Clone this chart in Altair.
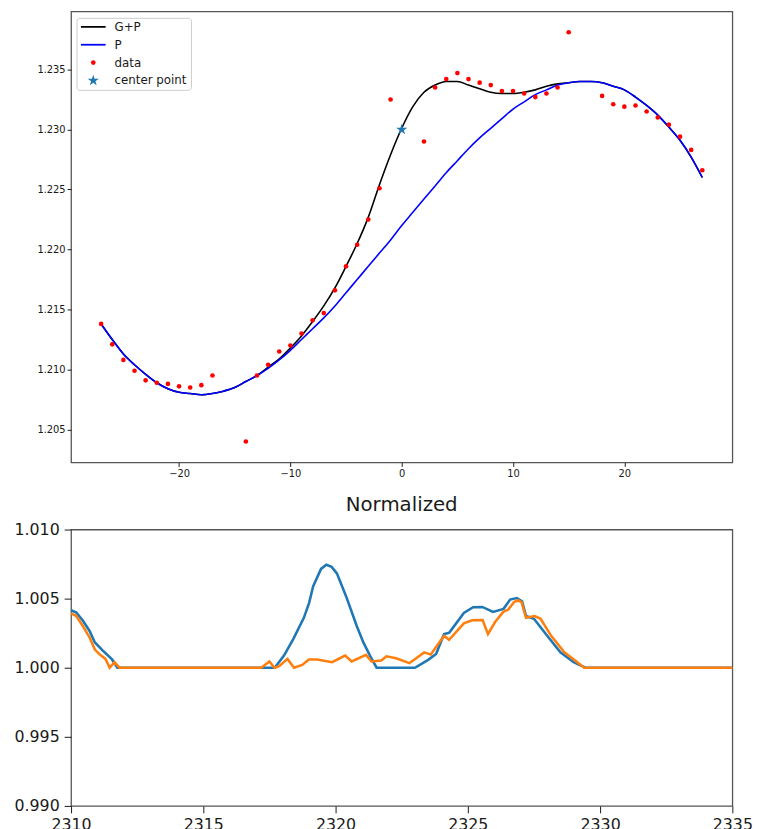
import altair as alt
import pandas as pd

# ---------------- top panel data ----------------
gp_x = list(range(-27, 28))
gp_y = [1.2138, 1.2125, 1.2113, 1.2104, 1.2096, 1.2089, 1.2084, 1.2081, 1.2080, 1.2079,
        1.2080, 1.2082, 1.2085, 1.2090, 1.2095, 1.2102, 1.2109, 1.2118, 1.2128, 1.2140,
        1.2153, 1.2168, 1.2186, 1.2205, 1.2227, 1.2254, 1.2279, 1.2301, 1.2319, 1.2331,
        1.2337, 1.2340, 1.2340, 1.2337, 1.2334, 1.2331, 1.2330, 1.2330, 1.2331, 1.2333,
        1.2336, 1.2338, 1.2339, 1.2340, 1.2340, 1.2339, 1.2336, 1.2333, 1.2327, 1.2320,
        1.2312, 1.2302, 1.2291, 1.2277, 1.2260]

p_x = list(range(-27, 28))
p_y = [1.2138, 1.2125, 1.2113, 1.2104, 1.2096, 1.2089, 1.2084, 1.2081, 1.2080, 1.2079,
       1.2080, 1.2082, 1.2085, 1.2090, 1.2095, 1.2101, 1.2108, 1.2116, 1.2125, 1.2134,
       1.2143, 1.2153, 1.2164, 1.2175, 1.2186, 1.2197, 1.2208, 1.2220, 1.2231, 1.2242,
       1.2253, 1.2264, 1.2274, 1.2284, 1.2293, 1.2301, 1.2309, 1.2317, 1.2323, 1.2329,
       1.2333, 1.2337, 1.2339, 1.2340, 1.2340, 1.2339, 1.2336, 1.2333, 1.2327, 1.2320,
       1.2312, 1.2302, 1.2291, 1.2277, 1.2260]

data_x = [-27, -26, -25, -24, -23, -22, -21, -20, -19, -18, -17, -14, -13, -12, -11, -10,
          -9, -8, -7, -6, -5, -4, -3, -2, -1, 2, 3, 4, 5, 6, 7, 8, 9, 10, 11, 12, 13, 14, 15,
          18, 19, 20, 21, 22, 23, 24, 25, 26, 27]
data_y = [1.2138, 1.2121, 1.2108, 1.2099, 1.2091, 1.2089, 1.2088, 1.2086, 1.2085, 1.2087,
          1.2095, 1.2040, 1.2095, 1.2104, 1.2115, 1.2120, 1.2130, 1.2141, 1.2147, 1.2166,
          1.2186, 1.2204, 1.2225, 1.2251, 1.2325, 1.2290, 1.2335, 1.2342, 1.2347, 1.2342,
          1.2339, 1.2337, 1.2332, 1.2332, 1.2330, 1.2327, 1.2330, 1.2335, 1.2381, 1.2328,
          1.2321, 1.2319, 1.2320, 1.2315, 1.2310, 1.2304, 1.2294, 1.2283, 1.2266]

center_x = [0]
center_y = [1.2300]

legend_labels = ["G+P", "P", "data", "center point"]

# ---------------- bottom panel data ----------------
blue_x = [2310.0, 2310.2, 2310.45, 2310.7, 2310.9, 2311.2, 2311.55, 2311.75, 2317.7, 2318.05,
          2318.4, 2318.8, 2319.0, 2319.15, 2319.45, 2319.65, 2319.85, 2320.05, 2320.4, 2320.8,
          2321.05, 2321.3, 2321.55, 2323.0, 2323.5, 2323.8, 2324.1, 2324.3, 2324.85, 2325.2,
          2325.55, 2325.95, 2326.35, 2326.6, 2326.85, 2327.05, 2327.2, 2327.5, 2328.0, 2328.5,
          2329.0, 2329.45, 2335.0]
blue_y = [1.00416, 1.00400, 1.00340, 1.00266, 1.00183, 1.00124, 1.00060, 1.00000, 1.00000, 1.00088,
          1.00207, 1.00361, 1.00469, 1.00588, 1.00715, 1.00745, 1.00730, 1.00683, 1.00516, 1.00302,
          1.00183, 1.00088, 1.00000, 1.00000, 1.00057, 1.00100, 1.00243, 1.00254, 1.00397, 1.00438,
          1.00440, 1.00404, 1.00426, 1.00493, 1.00504, 1.00480, 1.00374, 1.00354, 1.00231, 1.00111,
          1.00040, 1.00000, 1.00000]

orange_x = [2310.0, 2310.2, 2310.45, 2310.7, 2310.9, 2311.1, 2311.3, 2311.46, 2311.64, 2311.83,
            2317.19, 2317.5, 2317.69, 2317.87, 2318.18, 2318.43, 2318.74, 2318.99, 2319.3, 2319.87,
            2320.36, 2320.61, 2321.15, 2321.36, 2321.73, 2321.92, 2322.29, 2322.79, 2323.35, 2323.6,
            2324.1, 2324.29, 2324.85, 2325.16, 2325.56, 2325.76, 2326.03, 2326.34, 2326.53, 2326.75,
            2326.9, 2327.03, 2327.2, 2327.53, 2327.75, 2328.15, 2328.65, 2329.02, 2329.4, 2335.0]
orange_y = [1.00393, 1.00374, 1.00300, 1.00219, 1.00131, 1.00093, 1.00064, 1.00000, 1.00040, 1.00000,
            1.00000, 1.00045, 1.00000, 1.00011, 1.00064, 1.00000, 1.00020, 1.00060, 1.00060, 1.00040,
            1.00088, 1.00045, 1.00093, 1.00045, 1.00052, 1.00083, 1.00069, 1.00033, 1.00111, 1.00095,
            1.00231, 1.00202, 1.00321, 1.00343, 1.00345, 1.00243, 1.00331, 1.00404, 1.00421, 1.00476,
            1.00488, 1.00474, 1.00361, 1.00374, 1.00354, 1.00231, 1.00111, 1.00057, 1.00000, 1.00000]

top_xticks = [-20, -10, 0, 10, 20]
top_yticks = [1.205, 1.210, 1.215, 1.220, 1.225, 1.230, 1.235]
bot_xticks = [2310, 2315, 2320, 2325, 2330, 2335]
bot_yticks = [0.990, 0.995, 1.000, 1.005, 1.010]

C_TAB_BLUE = "#1f77b4"
C_TAB_ORANGE = "#ff7f0e"
# five-pointed star symbol as an SVG path in unit coordinates
STAR = ("M0,-1L0.2245,-0.309L0.951,-0.309L0.3633,0.118L0.588,0.809L0,0.382"
        "L-0.588,0.809L-0.3633,0.118L-0.951,-0.309L-0.2245,-0.309Z")

gp_df = pd.DataFrame({"pos": gp_x, "val": gp_y})
p_df = pd.DataFrame({"pos": p_x, "val": p_y})
pts_df = pd.DataFrame({"pos": data_x, "val": data_y})
ctr_df = pd.DataFrame({"pos": center_x, "val": center_y})

tx = alt.X("pos:Q", title=None,
           scale=alt.Scale(domain=[-29.7, 29.7], nice=False, zero=False),
           axis=alt.Axis(values=top_xticks, tickSize=4, labelFontSize=10, labelPadding=2,
                         labelFlush=False, labelOverlap=False))
ty = alt.Y("val:Q", title=None,
           scale=alt.Scale(domain=[1.20226, 1.23984], nice=False, zero=False),
           axis=alt.Axis(values=top_yticks, format=".3f", tickSize=4, labelFontSize=10, labelPadding=2,
                         labelFlush=False, labelOverlap=False))

gp_line = alt.Chart(gp_df).mark_line(color="black", strokeWidth=1.6, interpolate="monotone").encode(x=tx, y=ty)
p_line = alt.Chart(p_df).mark_line(color="blue", strokeWidth=1.6, interpolate="monotone").encode(x=tx, y=ty)
pts = alt.Chart(pts_df).mark_circle(color="red", size=22, opacity=1).encode(x=tx, y=ty)
ctr = alt.Chart(ctr_df).mark_point(filled=True, shape=STAR, color=C_TAB_BLUE, size=140, opacity=1).encode(x=tx, y=ty)

one = pd.DataFrame({"k": [0]})
row_y = [15.7 + 18.1 * i for i in range(len(legend_labels))]
leg_layers = [
    alt.Chart(one).mark_rect(fill="white", stroke="#cccccc", strokeWidth=1, cornerRadius=3)
      .encode(x=alt.value(6), x2=alt.value(122), y=alt.value(7), y2=alt.value(80)),
    alt.Chart(one).mark_rule(color="black", strokeWidth=1.8)
      .encode(x=alt.value(10), x2=alt.value(35), y=alt.value(row_y[0])),
    alt.Chart(one).mark_rule(color="blue", strokeWidth=1.8)
      .encode(x=alt.value(10), x2=alt.value(35), y=alt.value(row_y[1])),
    alt.Chart(one).mark_circle(color="red", size=22, opacity=1)
      .encode(x=alt.value(22.5), y=alt.value(row_y[2])),
    alt.Chart(one).mark_point(filled=True, shape=STAR, color=C_TAB_BLUE, size=140, opacity=1)
      .encode(x=alt.value(22.5), y=alt.value(row_y[3])),
]
for lab, yy in zip(legend_labels, row_y):
    leg_layers.append(
        alt.Chart(one).mark_text(align="left", baseline="middle", fontSize=12, color="#1a1a1a", text=lab)
        .encode(x=alt.value(44), y=alt.value(yy)))

top = alt.layer(gp_line, p_line, pts, ctr, *leg_layers).properties(width=670, height=457)

b_df = pd.DataFrame({"pos": blue_x, "val": blue_y})
o_df = pd.DataFrame({"pos": orange_x, "val": orange_y})

bx = alt.X("pos:Q", title=None,
           scale=alt.Scale(domain=[2310, 2335], nice=False, zero=False),
           axis=alt.Axis(values=bot_xticks, format="d", tickSize=7, labelFontSize=16, labelPadding=4,
                         labelFlush=False, labelOverlap=False))
by = alt.Y("val:Q", title=None,
           scale=alt.Scale(domain=[0.990, 1.010], nice=False, zero=False),
           axis=alt.Axis(values=bot_yticks, format=".3f", tickSize=7, labelFontSize=16, labelPadding=5,
                         labelFlush=False, labelOverlap=False))

b_line = alt.Chart(b_df).mark_line(color=C_TAB_BLUE, strokeWidth=2.6).encode(x=bx, y=by)
o_line = alt.Chart(o_df).mark_line(color=C_TAB_ORANGE, strokeWidth=2.6).encode(x=bx, y=by)

bottom = alt.layer(b_line, o_line).properties(
    width=670, height=280,
    title=alt.TitleParams("Normalized", fontSize=20, fontWeight="normal", offset=7,
                          color="#1a1a1a"))

chart = (
    alt.vconcat(top, bottom, spacing=15)
    .properties(padding={"left": 13, "top": 5, "right": 5, "bottom": 0})
    .configure(font="DejaVu Sans")
    .configure_axis(grid=False, domain=False, labelColor="#1a1a1a", tickColor="#1a1a1a")
    .configure_view(stroke="#555555", strokeWidth=1.3)
)

chart.save("out.html", embed_options={"renderer": "svg", "actions": False})
